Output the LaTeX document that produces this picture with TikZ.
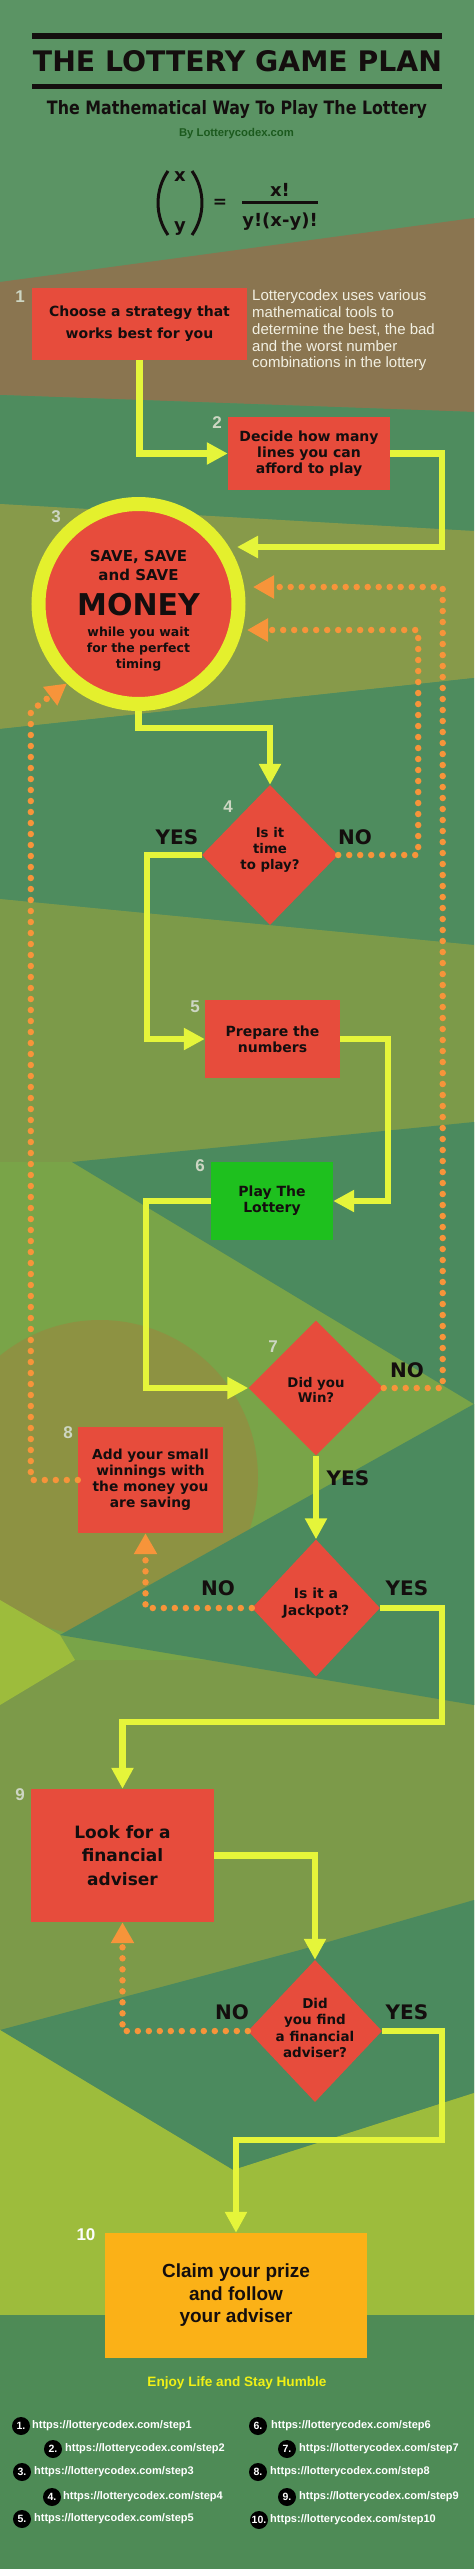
\documentclass[tikz,border=0pt]{standalone}
\usepackage{fontspec}
\usepackage{graphicx}
\setmainfont{Liberation Sans}
\newfontfamily\heavyfam{DejaVu Sans}
\newcommand\hvf{\heavyfam\bfseries}
\usetikzlibrary{arrows.meta,shapes.geometric,calc}

\definecolor{bgtop}{RGB}{91,148,100}
\definecolor{bgbrown}{RGB}{138,117,80}
\definecolor{bggreen}{RGB}{78,140,94}
\definecolor{bgolive}{RGB}{135,154,74}
\definecolor{bgolg}{RGB}{124,154,73}
\definecolor{bglight}{RGB}{121,164,72}
\definecolor{bgdark}{RGB}{75,138,94}
\definecolor{bgbrc}{RGB}{141,146,66}
\definecolor{bgyel}{RGB}{157,188,60}
\definecolor{bgbot}{RGB}{78,139,86}
\definecolor{boxred}{RGB}{231,76,60}
\definecolor{boxgreen}{RGB}{30,192,30}
\definecolor{boxorange}{RGB}{251,177,23}
\definecolor{ayellow}{RGB}{229,245,58}
\definecolor{ringcol}{RGB}{228,240,45}
\definecolor{dotor}{RGB}{247,148,58}
\definecolor{numcol}{RGB}{205,214,195}
\definecolor{desccol}{RGB}{242,240,226}
\definecolor{bygreen}{RGB}{28,90,30}
\definecolor{enjoycol}{RGB}{240,240,22}
\definecolor{ink}{RGB}{20,14,14}

\begin{document}
\begin{tikzpicture}[x=1pt,y=-1pt,
  rbox/.style={fill=boxred, inner sep=0, align=center, text=ink, font=\hvf\fontsize{14}{16}\selectfont},
  dmd/.style={shape=diamond, fill=boxred, inner sep=0, aspect=1},
  dtext/.style={align=center, inner sep=0, text=ink, font=\hvf\fontsize{13.5}{16}\selectfont},
  yn/.style={font=\hvf\fontsize{20}{20}\selectfont, inner sep=0, text=ink},
  num/.style={font=\bfseries\fontsize{17}{17}\selectfont, text=numcol, inner sep=0},
  ya/.style={draw=ayellow, line width=6.5pt, -{Triangle[width=21pt,length=21pt]}},
  od/.style={draw=dotor, line width=6.5pt, line cap=round, dash pattern=on 0pt off 11pt, -{Triangle[width=22pt,length=21pt]}},
  badge/.style={circle, fill=black, minimum size=18pt, inner sep=0, text=white, font=\bfseries\fontsize{10.5}{10.5}\selectfont},
  linktxt/.style={anchor=west, inner sep=0, text=white, font=\bfseries\fontsize{11}{11}\selectfont},
  fml/.style={inner sep=0, text=ink, font=\hvf\fontsize{18}{18}\selectfont}]
\useasboundingbox (0,0) rectangle (474,2569);

% ---------- background ----------
\fill[bgtop] (0,0) rectangle (474,2569);
\fill[bgbrown] (0,282) -- (474,218) -- (474,412) -- (0,395) -- cycle;
\fill[bggreen] (0,395) -- (474,412) -- (474,531) -- (0,504) -- cycle;
\fill[bgolive] (0,504) -- (474,531) -- (474,678) -- (0,729) -- cycle;
\fill[bggreen] (0,729) -- (474,678) -- (474,945) -- (0,899) -- cycle;
\fill[bgolg] (0,899) -- (474,945) -- (474,2320) -- (0,2320) -- cycle;
\fill[bglight] (0,1162) -- (72,1162) -- (474,1404) -- (474,1705) -- (233,1660) -- (0,1660) -- cycle;
\fill[bgdark] (72,1162) -- (474,1122) -- (474,1404) -- cycle;
\fill[bgbrc] (100,1478) circle[radius=158];
\fill[bgdark] (474,1404) -- (60,1635) -- (474,1705) -- cycle;
\fill[bgyel] (0,1600) -- (60,1635) -- (75,1660) -- (0,1705) -- cycle;
\fill[bgdark] (0,2030) -- (300,1950) -- (474,1900) -- (474,2093) -- (233,2170) -- cycle;
\fill[bgyel] (0,2030) -- (233,2170) -- (474,2093) -- (474,2315) -- (0,2315) -- cycle;
\fill[bgbot] (0,2315) rectangle (474,2569);

% ---------- header ----------
\fill[ink] (32,33) rectangle (442,39);
\fill[ink] (32,84) rectangle (442,89.5);
\node[inner sep=0, anchor=base, text=ink] (title) at (237.5,71.7) {\resizebox{409pt}{21pt}{\hvf THE LOTTERY GAME PLAN}};
\node[inner sep=0, anchor=base, text=ink] (subtitle) at (237,114.3) {\resizebox{380pt}{14pt}{\hvf The Mathematical Way To Play The Lottery}};
\node[inner sep=0, anchor=base, text=bygreen, font=\bfseries\fontsize{11.3}{11.3}\selectfont] (byline) at (236.5,137) {By Lotterycodex.com};

% formula
\draw[ink, line width=3pt] (168,171) .. controls (154.7,190) and (154.7,216) .. (168,235);
\draw[ink, line width=3pt] (192,171) .. controls (205.3,190) and (205.3,216) .. (192,235);
\node[fml] (fx) at (180,177) {x};
\node[fml] (fy) at (180,229) {y};
\node[fml, font=\hvf\fontsize{17}{17}\selectfont] (feq) at (220,203.5) {=};
\node[fml] (fnum) at (280,190) {x!};
\node[fml] (fden) at (280,222) {y!(x-y)!};
\draw[ink, line width=2.5pt] (242,202.5) -- (318,202.5);

% ---------- step nodes ----------
\node[rbox, minimum width=215pt, minimum height=72pt, font=\hvf\fontsize{14}{22}\selectfont] (b1) at (139.5,324) {Choose a strategy that\\works best for you};
\node[inner sep=0, anchor=west, align=left, text=desccol, font=\fontsize{15}{16.7}\selectfont] (desc) at (252,330.5) {Lotterycodex uses various\\mathematical tools to\\determine the best, the bad\\and the worst number\\combinations in the lottery};
\node[rbox, minimum width=162pt, minimum height=73pt] (b2) at (309,453.5) {Decide how many\\lines you can\\afford to play};
\node[circle, fill=boxred, draw=ringcol, line width=14pt, minimum size=200pt, inner sep=0] (circ) at (138.5,604) {};
\node[inner sep=0, align=center, text=ink, font=\hvf\fontsize{15}{19}\selectfont] (t3a) at (138.5,566) {SAVE, SAVE\\and SAVE};
\node[inner sep=0, text=ink, font=\hvf\fontsize{30}{30}\selectfont] (t3b) at (138.5,605) {MONEY};
\node[inner sep=0, align=center, text=ink, font=\hvf\fontsize{12.5}{16}\selectfont] (t3c) at (138.5,649) {while you wait\\for the perfect\\timing};

\node[dmd, minimum width=136pt, minimum height=140pt] (d4) at (270,855) {};
\node[dtext, font=\hvf\fontsize{13.3}{16}\selectfont] (t4) at (270,850) {Is it\\time\\to play?};
\node[rbox, minimum width=135pt, minimum height=78pt] (b5) at (272.5,1039) {Prepare the\\numbers};
\node[rbox, fill=boxgreen, minimum width=122pt, minimum height=78pt] (b6) at (272,1201) {Play The\\Lottery};
\node[dmd, minimum width=135pt, minimum height=135pt] (d7) at (316,1388) {};
\node[dtext, font=\hvf\fontsize{13.3}{15}\selectfont] (t7) at (316,1390) {Did you\\Win?};
\node[rbox, minimum width=145pt, minimum height=106pt, font=\hvf\fontsize{13.8}{16}\selectfont] (b8) at (150.5,1480) {Add your small\\winnings with\\the money you\\are saving};
\node[dmd, minimum width=128pt, minimum height=137pt] (dJ) at (316,1608) {};
\node[dtext, font=\hvf\fontsize{14}{17}\selectfont] (tJ) at (316,1603) {Is it a\\Jackpot?};
\node[rbox, minimum width=183pt, minimum height=133pt, font=\hvf\fontsize{17}{23.5}\selectfont] (b9) at (122.5,1855.5) {Look for a\\financial\\adviser};
\node[dmd, minimum width=134pt, minimum height=142pt] (dF) at (315,2031) {};
\node[dtext, font=\hvf\fontsize{13.5}{16.3}\selectfont] (tF) at (315,2028) {Did\\you find\\a financial\\adviser?};
\node[rbox, fill=boxorange, minimum width=262pt, minimum height=125pt, font=\bfseries\fontsize{19}{22.5}\selectfont] (b10) at (236,2295.5) {Claim your prize\\and follow\\your adviser};

% ---------- step numbers ----------
\node[num] (n1) at (20,297) {1};
\node[num] (n2) at (217,423) {2};
\node[num] (n3) at (56,517) {3};
\node[num] (n4) at (228,807) {4};
\node[num] (n5) at (195,1007) {5};
\node[num] (n6) at (200,1166) {6};
\node[num] (n7) at (273,1347) {7};
\node[num] (n8) at (68,1433) {8};
\node[num] (n9) at (20,1795) {9};
\node[num, text=white!95!numcol] (n10) at (86,2235) {10};

% ---------- yes / no labels ----------
\node[yn] (y4) at (177,837) {YES};
\node[yn] (no4) at (355,837) {NO};
\node[yn] (no7) at (407,1370) {NO};
\node[yn] (y7) at (348,1478) {YES};
\node[yn] (noJ) at (218,1588) {NO};
\node[yn] (yJ) at (407,1588) {YES};
\node[yn] (noF) at (232,2012) {NO};
\node[yn] (yF) at (407,2012) {YES};

% ---------- solid connectors ----------
\draw[ya] (b1.south) |- (b2.west);
\draw[ya] (b2.east) -- ++(52,0) |- ($(circ.center)+(98.5,-57)$);
\draw[ya] (circ.south) -- ++(0,17) -| (d4.north);
\draw[ya] (d4.west) -- ++(-55,0) |- (b5.west);
\draw[ya] (b5.east) -- ++(48,0) |- (b6.east);
\draw[ya] (b6.west) -- ++(-65,0) |- (d7.west);
\draw[ya] (d7.south) -- (dJ.north);
\draw[ya] (dJ.east) -- ++(62,0) -- ++(0,114) -| (b9.north);
\draw[ya] (b9.east) -| (dF.north);
\draw[ya] (dF.east) -- ++(60,0) -- ++(0,109) -| (b10.north);

% ---------- dotted connectors ----------
\draw[od] (d7.east) -- ++(59,0) |- ($(circ.center)+(114.5,-17)$);
\draw[od] (d4.east) -- ++(80,0) |- ($(circ.center)+(108.5,26)$);
\draw[od] (b8.west) -- ++(-47,0) -- ++(0,-769) -- (circ.228);
\draw[od] (dJ.west) -| ([xshift=-5pt]b8.south);
\draw[od] (dF.west) -| (b9.south);

% ---------- footer ----------
\node[inner sep=0, text=enjoycol, font=\bfseries\fontsize{13.6}{13.6}\selectfont] (enjoy) at (237,2383) {Enjoy Life and Stay Humble};
\foreach \n/\bx/\by/\tx in {1/21/2426/32, 2/53/2449/65, 3/22/2472/34, 4/52/2497/63, 5/22/2519/34,
                          6/258/2426/271, 7/287/2449/299, 8/258/2472/270, 9/287/2497/299, 10/259/2520/270}{
  \node[badge] (bd\n) at (\bx,\by) {\n.};
  \node[linktxt] (lk\n) at (\tx,\by) {https://lotterycodex.com/step\n};
}
\end{tikzpicture}
\end{document}
